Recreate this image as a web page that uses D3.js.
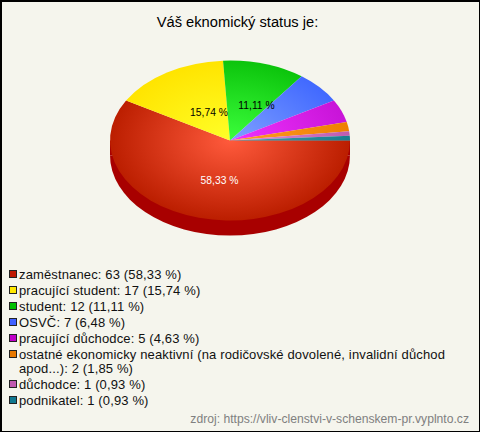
<!DOCTYPE html>
<html><head><meta charset="utf-8">
<script src="https://d3js.org/d3.v7.min.js"></script>
<style>html,body{margin:0;padding:0;background:#f5f5ed}svg{display:block}text{font-family:"Liberation Sans",Arial,sans-serif}</style>
</head><body><svg id="c" width="480" height="432"></svg>
<script>
const title = "Váš eknomický status je:";
const categories = ["zaměstnanec","pracující student","student","OSVČ","pracující důchodce","ostatné ekonomicky neaktivní (na rodičovské dovolené, invalidní důchod apod...)","důchodce","podnikatel"];
const values = [63,17,12,7,5,2,1,1];
const percents = ["58,33","15,74","11,11","6,48","4,63","1,85","0,93","0,93"];
const edgeColors = ["#bb1e00","#ffe400","#0cc40c","#4169ff","#c814d8","#ee7f00","#bd5cb0","#177d8f"];
const lightColors = ["#ff5a3c","#ffff28","#3cff3c","#7fa0ff","#f032ff","#ff9c28","#e48fd8","#48a0b0"];
const swatchColors = ["#c01800","#ffe800","#00c000","#4060ff","#c000c8","#e87800","#c058b0","#107890"];
const source = "zdroj: https://vliv-clenstvi-v-schenskem-pr.vyplnto.cz";
const legendLines = [[0],[1],[2],[3],[4],[5,"ostatné ekonomicky neaktivní (na rodičovské dovolené, invalidní důchod"],[5,"apod...): 2 (1,85 %)"],[6],[7]];

const svg = d3.select("#c");
svg.append("rect").attr("x",0.5).attr("y",0.5).attr("width",479).attr("height",431).attr("fill","#f5f5ed").attr("stroke","#000");
svg.append("rect").attr("x",1).attr("y",1).attr("width",478).attr("height",1).attr("fill","#000");
svg.append("rect").attr("x",1).attr("y",1).attr("width",1).attr("height",430).attr("fill","#000");

svg.append("text").attr("x",237.5).attr("y",27).attr("text-anchor","middle").attr("font-size",14.7).attr("fill","#000").text(title);

const cx=230, cy=140.5, rx=120, ry=80, depth=15;
const pie = d3.pie().sort(null).startAngle(Math.PI/2).endAngle(Math.PI*2.5);
const arcs = pie(values);
const arc = d3.arc().innerRadius(0).outerRadius(1);
const defs = svg.append("defs");
edgeColors.forEach((c,i)=>{
  const g = defs.append("radialGradient").attr("id","g"+i).attr("gradientUnits","userSpaceOnUse").attr("cx",0).attr("cy",0).attr("r",1);
  g.append("stop").attr("offset",0).attr("stop-color",lightColors[i]);
  g.append("stop").attr("offset",1).attr("stop-color",c);
});
// side wall
const sideG = svg.append("g").attr("fill","#a80000");
sideG.append("rect").attr("x",cx-rx).attr("y",cy).attr("width",2*rx).attr("height",depth);
sideG.append("path").attr("transform",`translate(${cx},${cy+depth}) scale(${rx},${ry})`).attr("d",arc({startAngle:Math.PI/2,endAngle:Math.PI*1.5}));
// top
const topG = svg.append("g").attr("transform",`translate(${cx},${cy}) scale(${rx},${ry})`);
topG.selectAll("path").data(arcs).join("path").attr("d",arc).attr("fill",(d,i)=>`url(#g${i})`);
// labels
const labelPos = [[219.5,180,"#fff"],[209,112,"#000"],[256.5,105,"#000"]];
labelPos.forEach((p,i)=>{
  svg.append("text").attr("x",p[0]).attr("y",p[1]+4).attr("text-anchor","middle").attr("font-size",10.3).attr("fill",p[2]).text(percents[i]+" %");
});
// legend
const baselines=[279,295,311,327,343,359,373,389,405];
legendLines.forEach((l,k)=>{
  const i=l[0], y=baselines[k];
  const text = l[1]|| `${categories[i]}: ${values[i]} (${percents[i]} %)`;
  if(k!==6) svg.append("rect").attr("x",9.5).attr("y",y-8.5).attr("width",7).attr("height",7).attr("fill",swatchColors[i]).attr("stroke","#222").attr("stroke-width",1);
  svg.append("text").attr("x",19).attr("y",y).attr("font-size",13).attr("letter-spacing",0.14).attr("fill","#111").text(text);
});
svg.append("text").attr("x",469).attr("y",423).attr("text-anchor","end").attr("font-size",12.15).attr("fill","#808080").text(source);
</script></body></html>
